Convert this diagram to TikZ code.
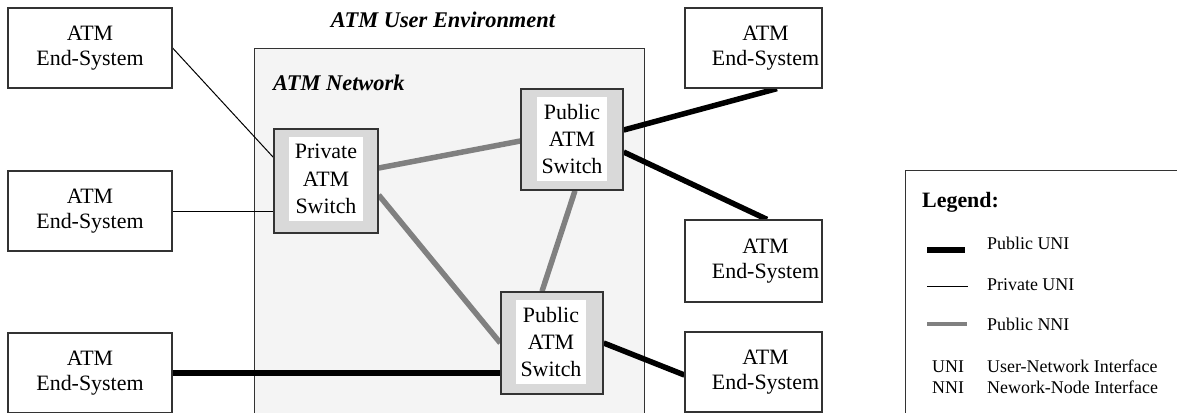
\documentclass[tikz,border=0pt]{standalone}
\usepackage{fontspec}
\setmainfont{Liberation Serif}
\usetikzlibrary{calc}
\definecolor{netfill}{HTML}{F4F4F4}
\definecolor{swfill}{HTML}{D9D9D9}
\definecolor{nnigray}{HTML}{808080}
\definecolor{border}{HTML}{333333}
\pgfdeclarelayer{bg}
\pgfsetlayers{bg,main}
\begin{document}
\begin{tikzpicture}[x=1bp,y=-1bp,
  es/.style={draw=border, line width=1.2bp, fill=white, minimum width=164bp, minimum height=80bp, align=center, font=\fontsize{22}{25}\selectfont, inner sep=0pt},
  esr/.style={draw=border, line width=1.2bp, fill=white, minimum width=137bp, minimum height=80bp, inner sep=0pt,
    label={[xshift=12bp, align=center, font=\fontsize{22}{25}\selectfont, inner sep=0pt]center:ATM\\End-System}},
  sw/.style={draw=border, line width=1.4bp, fill=swfill, inner sep=0pt},
  swt/.style={fill=white, align=center, font=\fontsize{22}{27.5}\selectfont, inner sep=0pt, minimum width=70bp, minimum height=84bp},
  puni/.style={line width=5.5bp, draw=black},
  pruni/.style={line width=1bp, draw=black},
  pnni/.style={line width=5.5bp, draw=nnigray},
  ttl/.style={font=\fontsize{22.5}{27}\selectfont\bfseries\itshape, inner sep=0pt},
  leg/.style={font=\fontsize{18}{21}\selectfont, anchor=base west, inner sep=0pt}
]
\useasboundingbox (0,0) rectangle (1177,412);
\clip (0,0) rectangle (1177,412);

% switches
\node[sw, minimum width=104bp, minimum height=104bp] (ps) at (326,181) {};
\node[swt, minimum width=74bp] (pst) at (326,179) {Private\\ATM\\Switch};
\node[sw, minimum width=102bp, minimum height=101bp] (pt) at (572,139.5) {};
\node[swt] (ptt) at (572,139) {Public\\ATM\\Switch};
\node[sw, minimum width=102bp, minimum height=102bp] (pb) at (552,343) {};
\node[swt] (pbt) at (551,342) {Public\\ATM\\Switch};

% end systems
\node[es] (e1) at (90,48) {ATM\\End-System};
\node[es] (e2) at (90,211) {ATM\\End-System};
\node[es] (e3) at (90,373) {ATM\\End-System};
\node[esr] (e4) at (753.5,48) {};
\node[esr, minimum height=82bp] (e5) at (753.5,261) {};
\node[esr] (e6) at (753.5,372) {};

% titles
\node[ttl, anchor=base] (envt) at (443,27) {ATM User Environment};
\node[ttl, anchor=base west] (nett) at (273,90) {ATM Network};

\begin{pgfonlayer}{bg}
\node[draw=border, line width=1.2bp, fill=netfill, minimum width=390bp, minimum height=400bp, anchor=north west, inner sep=0pt] (net) at (254,48) {};
\draw[pruni] (e1.east) -- ([yshift=-29bp]ps.north west);
\draw[pruni] (e2.east) -- (ps.west |- e2.east);
\draw[puni] (e3.east) -- (pb.west |- e3.east);
\draw[pnni] ([yshift=13bp]ps.east) -- ([yshift=-1.5bp]pt.west);
\draw[pnni] ([yshift=-14bp]ps.east) -- (pb.west);
\draw[pnni] ([xshift=3bp]pt.south) -- ([xshift=-10bp]pb.north);
\draw[puni] ([yshift=9.5bp]pt.east) -- ([xshift=23.5bp]e4.south);
\draw[puni] ([yshift=-12.5bp]pt.east) -- ([xshift=13.5bp]e5.north);
\draw[puni] (pb.east) -- ([yshift=-3bp]e6.west);
\end{pgfonlayer}

% legend
\node[draw=border, line width=1.2bp, minimum width=300bp, minimum height=260bp, anchor=north west, inner sep=0pt] (legend) at (905,170) {};
\node[font=\fontsize{22}{26}\selectfont\bfseries, anchor=base west, inner sep=0pt] (legt) at (922,207) {Legend:};
\coordinate (l1a) at (927,250); \coordinate (l1b) at (965,250);
\coordinate (l2a) at (927,286); \coordinate (l2b) at (968,286);
\coordinate (l3a) at (927,324); \coordinate (l3b) at (967,324);
\draw[puni, line width=5.3bp] (l1a) -- (l1b);
\draw[pruni] (l2a) -- (l2b);
\draw[pnni, line width=4.5bp] (l3a) -- (l3b);
\node[leg] (l1t) at (987,249) {Public UNI};
\node[leg] (l2t) at (987,290) {Private UNI};
\node[leg] (l3t) at (987,330) {Public NNI};
\node[leg] (a1) at (932,372) {UNI};
\node[leg] (a1t) at (987,372) {User-Network Interface};
\node[leg] (a2) at (932,393) {NNI};
\node[leg] (a2t) at (987,393) {Nework-Node Interface};
\end{tikzpicture}
\end{document}
